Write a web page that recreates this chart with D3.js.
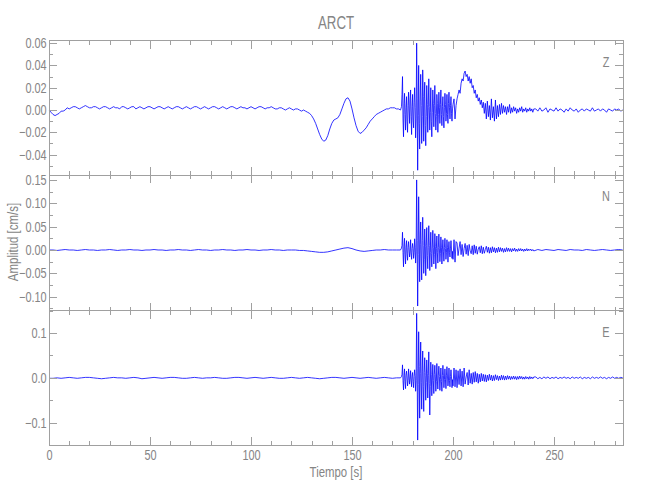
<!DOCTYPE html>
<html><head><meta charset="utf-8">
<script src="https://cdn.jsdelivr.net/npm/d3@7"></script>
<style>
body{margin:0;background:#fff}
text{font-family:"Liberation Sans","DejaVu Sans",sans-serif;fill:#858585}
</style>
</head><body>
<svg id="c" width="650" height="500"></svg>
<script>
// ---------- data ----------
const title = "ARCT";
const xLabel = "Tiempo [s]";
const yLabel = "Amplitud [cm/s]";
const channelNames = ["Z", "N", "E"];
const xTickValues = [0, 50, 100, 150, 200, 250];
const xMinorValues = [10,20,30,40,60,70,80,90,110,120,130,140,160,170,180,190,210,220,230,240,260,270,280];
const xRange = [0, 284.3];

const zTicks = [-0.04, -0.02, 0.00, 0.02, 0.04, 0.06];
const zTickLabels = ["\u22120.04", "\u22120.02", "0.00", "0.02", "0.04", "0.06"];
const zMinor = [-0.05, -0.03, -0.01, 0.01, 0.03, 0.05];
const zRange = [-0.0583, 0.0622];

const nTicks = [-0.10, -0.05, 0.00, 0.05, 0.10, 0.15];
const nTickLabels = ["\u22120.10", "\u22120.05", "0.00", "0.05", "0.10", "0.15"];
const nMinor = [-0.125, -0.075, -0.025, 0.025, 0.075, 0.125];
const nRange = [-0.13, 0.1606];

const eTicks = [-0.1, 0.0, 0.1];
const eTickLabels = ["\u22120.1", "0.0", "0.1"];
const eMinor = [-0.15, -0.05, 0.05, 0.15];
const eRange = [-0.15, 0.15];

// amplitudes in units of 0.001 cm/s; sampling = [start time (s), step (s)] per segment
const ampUnit = 0.001;

const zSampling = [[0, 1], [174.5, 0.25], [200, 0.5], [241, 1]];
const zQuiet = [0,-2,-4,-5,-4,-3,-1,-1,0,2,
 1,2,3,3,2,1,2,3,4,3,
 2,2,3,3,2,1,2,3,3,2,
 1,2,3,2,2,1,3,3,2,1,
 2,3,3,1,2,3,2,1,2,3,
 3,2,1,2,3,3,2,1,2,3,
 2,1,2,3,3,2,1,2,3,2,
 1,2,3,3,2,1,2,3,2,1,
 2,3,3,2,1,2,3,2,1,2,
 3,3,2,1,2,3,2,2,1,2,
 3,2,1,2,3,3,2,1,2,2,
 3,2,1,1,2,2,1,0,1,2,
 1,0,1,1,0,-1,0,-1,-2,-3,
 -5,-8,-12,-17,-22,-26,-28,-27,-23,-17,
 -12,-9,-8,-7,-4,1,6,10,11,8,
 1,-7,-14,-19,-21,-20,-18,-16,-13,-10,
 -8,-6,-4,-3,-2,-1,0,1,1,2,
 2,2,1,1,0];
const zBurst = [3,14,
 30,-8,-24,6, 15,-4,-18,2, 12,-10,-20,4, 16,0,-12,9, 18,-6,-22,3, 14,-9,-16,7, 20,2,-25,-8,
 60,10,-54,-5, 40,-12,-35,8, 32,4,-30,-6, 36,12,-28,10, 25,-14,-32,-6, 22,5,-20,2, 28,3,-18,-2,
 20,-10,-24,-2, 18,6,-15,4, 22,-3,-18,-6, 14,6,-20,-4, 16,2,-12,5, 18,-4,-14,3, 12,-6,-16,2,
 15,5,-10,-3, 14,-4,-12,6, 16,2,-8,4, 12,-3,-10,1];
const zCoda = [5,10,-8,4,
 10,14,18,15,24,28,26,33,35,30,32,26,30,24,28,20,22,15,18,11,14,8,11,5,9,2,7,-3,6,-8,8,-6,4,-9,10,-7,3,-10,9,-8,4,-6,5,-4,6,-3,4,-2,3,-4,3,-2,5,-3,2,-2,3,-1,2,-3,1,-2,2,-1,3,-2,1,-1,2,-2,1,-1,2,-1,1,-2,1];
const zTail = [1,-1,2,-1,0,2,-2,1,0,-1,2,-1,1,0,-2,1,-1,2,0,-1,1,-2,0,1,-1,1,0,-1,2,-1,0,1,-1,1,0,-2,1,0,-1,1,0,1,-1,0];

const nSampling = [[0, 2], [174.5, 0.25], [200, 0.5], [242, 2]];
const nQuiet = [0,0,-1,0,1,0,0,-1,0,1,0,0,-1,0,0,1,0,-1,0,0,1,0,0,-1,0,0,1,0,0,-1,0,0,1,0,0,-1,0,1,0,0,-1,0,0,1,0,0,-1,0,0,1,0,0,-1,0,0,1,0,0,-1,0,0,0,-1,-1,-2,-3,-4,-5,-5,-4,-2,0,2,4,5,3,0,-2,-3,-2,-1,0,0,1,0,0,0,0];
const nBurst = [4,10,
 38,-5,-36,8, 25,-10,-30,6, 20,-8,-22,5, 18,2,-15,-4, 22,-6,-20,3, 14,4,-18,-6, 24,6,-28,-4,
 150,20,-120,-10, 114,30,-68,12, 60,-15,-64,20, 70,10,-50,-20, 45,8,-55,10, 48,-12,-40,6, 52,10,-44,-5,
 38,-8,-36,4, 42,6,-30,-10, 35,8,-40,3, 30,-6,-28,5, 34,4,-25,-8, 28,6,-30,2, 22,-4,-24,5,
 25,3,-20,-6, 22,5,-26,2, 18,-5,-15,4, 20,2,-18,-3];
const nCoda = [-20,22,-26,18,
 15,-12,4,18,-10,12,-14,3,14,-9,10,-12,12,-2,-8,9,-10,11,-7,8,-9,2,7,-6,9,-8,6,-7,1,8,-5,6,-7,5,-6,7,-4,5,-6,4,-5,6,-4,5,-3,4,-5,3,-4,5,-3,4,-3,3,-4,3,-2,4,-3,2,-3,3,-2,3,-2,2,-3,2,-2,3,-2,2,-1,2,-2,1,-2];
const nTail = [1,-1,1,0,-1,1,0,-1,1,0,0,-1,1,0,-1,0,1,0,-1,0,1,0];

const eSampling = [[0, 2], [174.5, 0.25], [200, 0.5], [241, 1]];
const eQuiet = [-1,-1,0,-1,0,1,0,-1,0,1,1,0,-1,-2,-1,0,1,0,0,-1,0,1,0,-2,-1,0,1,0,-1,0,1,1,0,-1,-1,0,1,0,-1,0,0,1,0,-1,-1,0,1,1,0,-1,0,1,0,-1,0,1,0,-1,-1,0,1,0,-1,0,1,0,-1,-2,-1,0,1,1,0,-1,0,1,0,-1,0,1,0,-1,0,1,0,-1,0,0];
const eBurst = [3,8,
 29,-6,-27,5, 20,-8,-24,6, 15,2,-18,-6, 20,4,-14,-3, 16,-5,-20,4, 12,-8,-22,3, 18,5,-30,-6,
 144,20,-139,-15, 103,25,-90,10, 80,-10,-70,15, 60,-20,-75,12, 45,6,-50,-10, 40,10,-45,5, 58,-12,-83,-20,
 35,8,-40,-5, 30,-6,-35,8, 28,4,-30,-8, 32,-5,-25,6, 26,3,-28,-4, 22,-8,-30,5, 28,6,-22,-4,
 20,-3,-24,6, 25,4,-18,-5, 22,-6,-20,3, 18,2,-22,-4];
const eCoda = [-18,22,-20,18,
 -22,16,-15,20,-18,15,-20,22,-14,2,12,-16,18,-12,10,-14,12,-10,14,-9,10,-12,8,-9,10,-7,8,-8,7,-9,6,-6,8,-5,6,-7,5,-6,7,-4,5,-6,4,-5,6,-4,5,-5,4,-4,5,-3,4,-4,3,-3,4,-3,3,-4,3,-3,4,-2,3,-3,2,-3,3,-2,2,-3,3,-2,2,-2,2];
const eTail = [2,-2,1,-2,2,-1,2,-2,1,-1,2,-2,1,-1,2,-1,1,-2,2,-1,1,-1,2,-2,1,-1,1,-2,2,-1,1,-1,2,-1,1,-2,1,-1,2,-1,1,-1,1,0];

// ---------- build ----------
function buildSeries(sampling, segments) {
  const pts = [];
  segments.forEach((seg, k) => {
    const [t0, dt] = sampling[k];
    seg.forEach((v, i) => pts.push({t: t0 + i * dt, v: v * ampUnit}));
  });
  return pts;
}

const panels = [
  {name: channelNames[0], data: buildSeries(zSampling, [zQuiet, zBurst, zCoda, zTail]), dom: zRange, ticks: zTicks, labels: zTickLabels, minor: zMinor, top: 40.7, bottom: 175},
  {name: channelNames[1], data: buildSeries(nSampling, [nQuiet, nBurst, nCoda, nTail]), dom: nRange, ticks: nTicks, labels: nTickLabels, minor: nMinor, top: 175, bottom: 310.7},
  {name: channelNames[2], data: buildSeries(eSampling, [eQuiet, eBurst, eCoda, eTail]), dom: eRange, ticks: eTicks, labels: eTickLabels, minor: eMinor, top: 310.7, bottom: 445}
];

const svg = d3.select("#c");
const L = 49, R = 623.3;
const axisColor = "#a0a0a0";
const narrow = 0.78;
const x = d3.scaleLinear().domain(xRange).range([L, R]);

function styleAxis(g) {
  g.select(".domain").remove();
  g.selectAll("line").attr("stroke", axisColor).attr("shape-rendering", "crispEdges");
  g.selectAll("text").attr("fill", "#858585").style("font-size", "14px")
    .attr("transform", `scale(${narrow},1)`);
}

function label(txt, tx, ty, size, sx, rot) {
  svg.append("text")
    .attr("transform", `translate(${tx},${ty})` + (rot ? ` rotate(${rot})` : "") + ` scale(${sx},1)`)
    .attr("text-anchor", "middle").style("font-size", size + "px").text(txt);
}

panels.forEach((p, idx) => {
  const y = d3.scaleLinear().domain(p.dom).range([p.bottom, p.top]);
  const line = d3.line().x(d => x(d.t)).y(d => y(d.v));
  svg.append("path").datum(p.data).attr("d", line)
    .attr("fill", "none").attr("stroke", "#0000ff").attr("stroke-width", 0.8).attr("stroke-linejoin", "round");

  svg.append("g").attr("transform", `translate(${L},0)`)
    .call(d3.axisLeft(y).tickValues(p.ticks).tickSize(-8).tickPadding(3)
      .tickFormat((d, i) => p.labels[i])).call(styleAxis);
  svg.append("g").attr("transform", `translate(${L},0)`)
    .call(d3.axisLeft(y).tickValues(p.minor).tickSize(-4).tickFormat("")).call(styleAxis);
  svg.append("g").attr("transform", `translate(${R},0)`)
    .call(d3.axisRight(y).tickValues(p.ticks).tickSize(-8).tickFormat("")).call(styleAxis);
  svg.append("g").attr("transform", `translate(${R},0)`)
    .call(d3.axisRight(y).tickValues(p.minor).tickSize(-4).tickFormat("")).call(styleAxis);
  svg.append("g").attr("transform", `translate(0,${p.top})`)
    .call(d3.axisTop(x).tickValues(xTickValues).tickSize(-8).tickFormat("")).call(styleAxis);
  svg.append("g").attr("transform", `translate(0,${p.top})`)
    .call(d3.axisTop(x).tickValues(xMinorValues).tickSize(-4).tickFormat("")).call(styleAxis);
  const bottomAxis = d3.axisBottom(x).tickValues(xTickValues).tickSize(-8).tickPadding(5);
  if (idx < panels.length - 1) bottomAxis.tickFormat("");
  else bottomAxis.tickFormat(d3.format("d"));
  svg.append("g").attr("transform", `translate(0,${p.bottom})`).call(bottomAxis).call(styleAxis);
  svg.append("g").attr("transform", `translate(0,${p.bottom})`)
    .call(d3.axisBottom(x).tickValues(xMinorValues).tickSize(-4).tickFormat("")).call(styleAxis);

  svg.append("rect").attr("x", L).attr("y", p.top).attr("width", R - L).attr("height", p.bottom - p.top)
    .attr("fill", "none").attr("stroke", axisColor).attr("shape-rendering", "crispEdges");

  label(p.name, 606, p.top + 26, 14, narrow, 0);
});

label(title, 336, 29, 19, 0.7, 0);
label(xLabel, 336, 477, 15, 0.76, 0);
label(yLabel, 18, 242, 14, 0.82, -90);
</script>
</body></html>
